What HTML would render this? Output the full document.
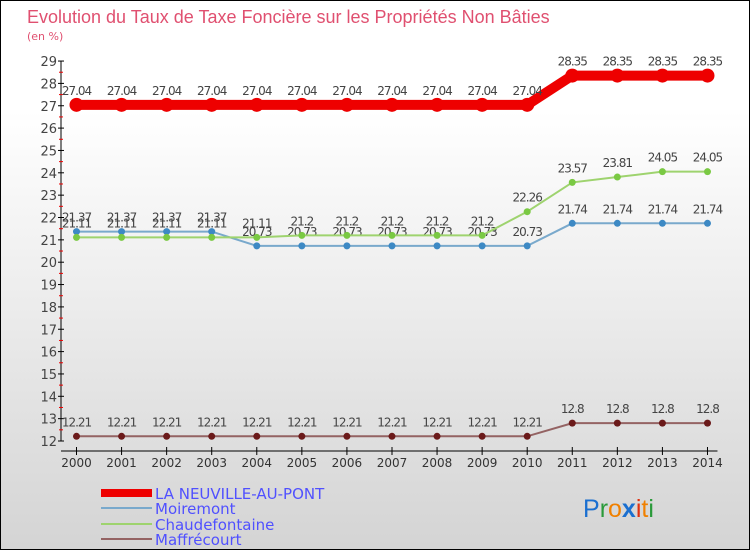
<!DOCTYPE html>
<html><head><meta charset="utf-8"><style>
body{margin:0}
#c{width:748px;height:548px;border:1px solid #000;background:linear-gradient(#fff,#fff 20%,#d4d4d4);position:relative;font-family:"DejaVu Sans","Liberation Sans",sans-serif;overflow:hidden}
</style></head><body>
<div id="c">
<svg width="748" height="548" id="s">
<text x="26" y="22" font-size="18" fill="#e05070" font-family="Liberation Sans,sans-serif">Evolution du Taux de Taxe Foncière sur les Propriétés Non Bâties</text>
<text x="26" y="39" font-size="11" fill="#e05070">(en %)</text>
<g id="g"></g>
<g>
<rect x="100" y="488" width="51" height="8" fill="#e00"/>
<text x="154" y="498" font-size="15" fill="#5050ff">LA NEUVILLE-AU-PONT</text>
<line x1="100" x2="151" y1="507" y2="507" stroke="#79a9cc" stroke-width="2"/>
<text x="154" y="513" font-size="15" fill="#5050ff">Moiremont</text>
<line x1="100" x2="151" y1="523" y2="523" stroke="#9ed36e" stroke-width="2"/>
<text x="154" y="529" font-size="15" fill="#5050ff">Chaudefontaine</text>
<line x1="100" x2="151" y1="538" y2="538" stroke="#946363" stroke-width="2"/>
<text x="154" y="544" font-size="15" fill="#5050ff">Maffrécourt</text>
</g>
<text x="582" y="516" font-size="25" font-family="Liberation Sans,sans-serif"><tspan fill="#1a6fd0">P</tspan><tspan fill="#2a9a3a">r</tspan><tspan fill="#f08000">o</tspan><tspan fill="#1a6fd0" font-weight="bold">x</tspan><tspan fill="#e03010">i</tspan><tspan fill="#f08000">t</tspan><tspan fill="#2a9a3a">i</tspan></text>
</svg></div>
<script>
const years=[2000,2001,2002,2003,2004,2005,2006,2007,2008,2009,2010,2011,2012,2013,2014];
const laNeuville=[27.04,27.04,27.04,27.04,27.04,27.04,27.04,27.04,27.04,27.04,27.04,28.35,28.35,28.35,28.35];
const moiremont=[21.37,21.37,21.37,21.37,20.73,20.73,20.73,20.73,20.73,20.73,20.73,21.74,21.74,21.74,21.74];
const chaudefontaine=[21.11,21.11,21.11,21.11,21.11,21.2,21.2,21.2,21.2,21.2,22.26,23.57,23.81,24.05,24.05];
const maffrecourt=[12.21,12.21,12.21,12.21,12.21,12.21,12.21,12.21,12.21,12.21,12.21,12.8,12.8,12.8,12.8];
const yTicks=[12,13,14,15,16,17,18,19,20,21,22,23,24,25,26,27,28,29];
const NS="http://www.w3.org/2000/svg",g=document.getElementById('g');
const X=i=>75.5+i*45.07, Y=v=>440-(v-12)*22.35;
function mk(t,a,p){const e=document.createElementNS(NS,t);for(const k in a)e.setAttribute(k,a[k]);(p||g).appendChild(e);return e;}
mk('line',{x1:60,x2:60,y1:60,y2:440,stroke:'#000'});
mk('line',{x1:60,x2:X(14)+10,y1:450,y2:450,stroke:'#000'});
yTicks.forEach(v=>{
 const l=mk('line',{x1:57,x2:63,y1:Y(v),y2:Y(v),stroke:'#000'});
 
 
 if(v<29)mk('line',{x1:58,x2:62,y1:Y(v+0.5),y2:Y(v+0.5),stroke:'#e00'});
 const t=mk('text',{x:56,y:Y(v)+5,'font-size':13,fill:'#444','text-anchor':'end'});t.textContent=v;
 
 
});
years.forEach((y,i)=>{
 mk('line',{x1:X(i),x2:X(i),y1:446,y2:454,stroke:'#000'});
 const t=mk('text',{x:X(i),y:466,'font-size':12,fill:'#333','text-anchor':'middle'});t.textContent=y;
 
 
});
function series(d,name,col,w,r,dot){
 const s=mk('g',{});
 
 
 mk('polyline',{points:d.map((v,i)=>X(i)+','+Y(v)).join(' '),fill:'none',stroke:col,'stroke-width':w},s);
 d.forEach((v,i)=>{
  const c=mk('circle',{cx:X(i),cy:Y(v),r:r,fill:dot},s);
  
  
  const t=mk('text',{x:X(i),y:Y(v)-10,'font-size':12,fill:'#444','text-anchor':'middle','letter-spacing':'-1'},s);t.textContent=v;
 });
}
series(maffrecourt,'maffrecourt','#946363',2,3.5,'#6b1a1a');
series(moiremont,'moiremont','#79a9cc',2,3.5,'#3d89c4');
series(chaudefontaine,'chaudefontaine','#9ed36e',2,3.5,'#7ac943');
series(laNeuville,'la-neuville','#e00',10,7,'#e00');
</script>
</body></html>
